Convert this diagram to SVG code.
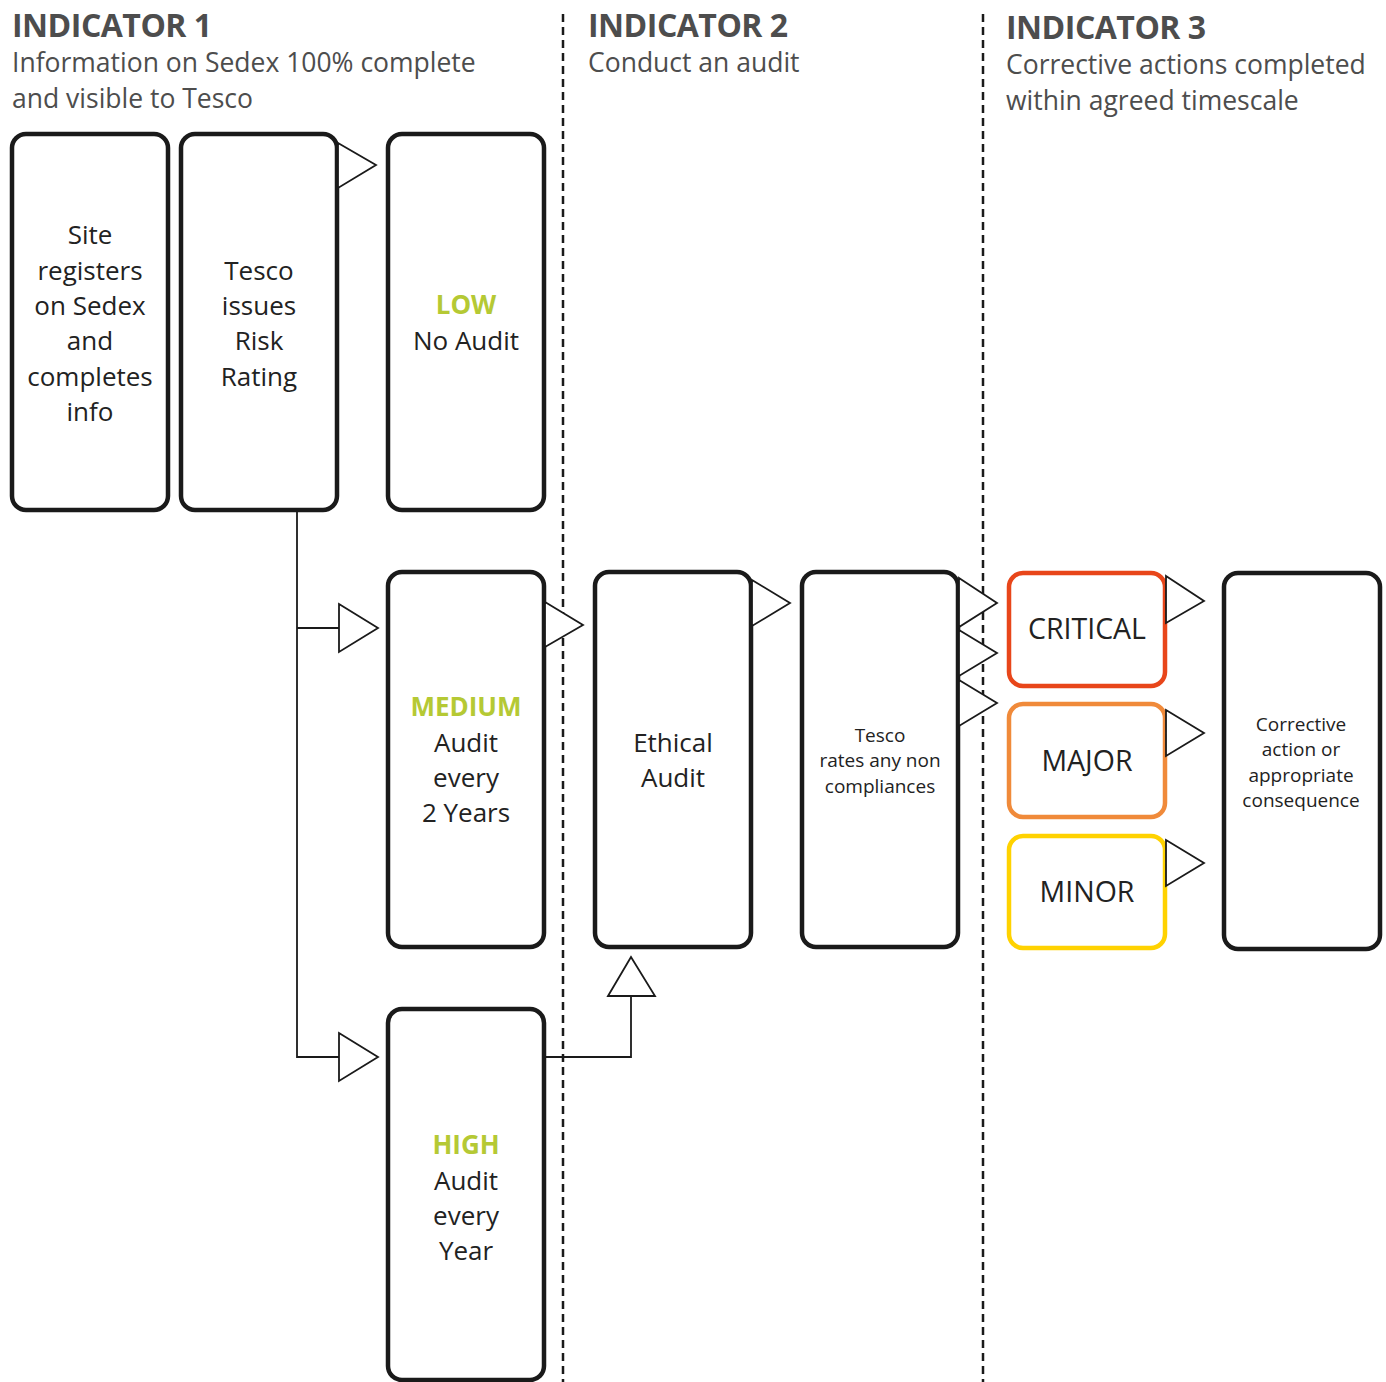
<svg xmlns="http://www.w3.org/2000/svg" width="1386" height="1382" viewBox="0 0 1386 1382">
<style>
.box{fill:#fff;stroke:#1a1a1a;stroke-width:4.5}
.tri{fill:#fff;stroke:#1a1a1a;stroke-width:1.8;stroke-linejoin:miter}
.ln{fill:none;stroke:#1a1a1a;stroke-width:1.8}
.dash{stroke:#1a1a1a;stroke-width:2.5;stroke-dasharray:8,5}
text{font-family:"Open Sans","Noto Sans",sans-serif;fill:#222}
.h{font-weight:bold;font-size:32px;fill:#4d4d4d;letter-spacing:-0.5px}
.s{font-size:26.5px;fill:#4d4d4d}
.t{font-size:26px;text-anchor:middle}
.sm{font-size:19px;text-anchor:middle}
.big{font-size:28.5px}
.g{font-weight:bold;fill:#b5c934}
</style>
<rect width="1386" height="1382" fill="#fff"/>
<g id="dividers">
<line class="dash" x1="563" y1="14" x2="563" y2="1382"/>
<line class="dash" x1="983" y1="14" x2="983" y2="1382"/>
</g>
<g id="headers">
<text class="h" x="12" y="37">INDICATOR 1</text>
<text class="s" x="12" y="72">Information on Sedex 100% complete</text>
<text class="s" x="12" y="108">and visible to Tesco</text>
<text class="h" x="588" y="37">INDICATOR 2</text>
<text class="s" x="588" y="72">Conduct an audit</text>
<text class="h" x="1006" y="39">INDICATOR 3</text>
<text class="s" x="1006" y="74">Corrective actions completed</text>
<text class="s" x="1006" y="110">within agreed timescale</text>
</g>
<g id="connectors">
<polyline class="ln" points="297,510 297,1057 339,1057"/>
<line class="ln" x1="297" y1="628" x2="339" y2="628"/>
<polyline class="ln" points="545,1057 631,1057 631,996"/>
</g>
<g id="site">
<rect class="box" x="12" y="134" width="156" height="376" rx="14"/>
<text class="t" x="90" y="244">Site</text>
<text class="t" x="90" y="280">registers</text>
<text class="t" x="90" y="315">on Sedex</text>
<text class="t" x="90" y="350">and</text>
<text class="t" x="90" y="386">completes</text>
<text class="t" x="90" y="421">info</text>
</g>
<g id="risk">
<rect class="box" x="181" y="134" width="156" height="376" rx="14"/>
<text class="t" x="259" y="280">Tesco</text>
<text class="t" x="259" y="315">issues</text>
<text class="t" x="259" y="350">Risk</text>
<text class="t" x="259" y="386">Rating</text>
</g>
<g id="low">
<rect class="box" x="388" y="134" width="156" height="376" rx="14"/>
<text class="t g" x="466" y="314">LOW</text>
<text class="t" x="466" y="350">No Audit</text>
</g>
<g id="medium">
<rect class="box" x="388" y="572" width="156" height="375" rx="14"/>
<text class="t g" x="466" y="716">MEDIUM</text>
<text class="t" x="466" y="752">Audit</text>
<text class="t" x="466" y="787">every</text>
<text class="t" x="466" y="822">2 Years</text>
</g>
<g id="high">
<rect class="box" x="388" y="1009" width="156" height="371" rx="14"/>
<text class="t g" x="466" y="1154">HIGH</text>
<text class="t" x="466" y="1190">Audit</text>
<text class="t" x="466" y="1225">every</text>
<text class="t" x="466" y="1260">Year</text>
</g>
<g id="ethical">
<rect class="box" x="595" y="572" width="156" height="375" rx="14"/>
<text class="t" x="673" y="752">Ethical</text>
<text class="t" x="673" y="787">Audit</text>
</g>
<g id="rates">
<rect class="box" x="802" y="572" width="156" height="375" rx="14"/>
<text class="sm" x="880" y="742">Tesco</text>
<text class="sm" x="880" y="767">rates any non</text>
<text class="sm" x="880" y="793">compliances</text>
</g>
<g id="critical">
<rect class="box" x="1009" y="573" width="156" height="113" rx="14" style="stroke:#e8461a"/>
<text class="t big" x="1087" y="639">CRITICAL</text>
</g>
<g id="major">
<rect class="box" x="1009" y="704" width="156" height="113" rx="14" style="stroke:#f08a3a"/>
<text class="t big" x="1087" y="771">MAJOR</text>
</g>
<g id="minor">
<rect class="box" x="1009" y="836" width="156" height="112" rx="14" style="stroke:#ffd200"/>
<text class="t big" x="1087" y="902">MINOR</text>
</g>
<g id="corrective">
<rect class="box" x="1224" y="573" width="156" height="376" rx="14"/>
<text class="sm" x="1301" y="731">Corrective</text>
<text class="sm" x="1301" y="756">action or</text>
<text class="sm" x="1301" y="782">appropriate</text>
<text class="sm" x="1301" y="807">consequence</text>
</g>
<g id="arrowheads">
<polygon class="tri" points="338,143 376,165 338,188"/>
<polygon class="tri" points="339,604 378,628 339,652"/>
<polygon class="tri" points="339,1033 378,1057 339,1081"/>
<polygon class="tri" points="545,602 583,625 545,647"/>
<polygon class="tri" points="608,996 631,957 655,996"/>
<polygon class="tri" points="752,580 790,603 752,626"/>
<polygon class="tri" points="959,578 997,603 959,627"/>
<polygon class="tri" points="959,630 997,653 959,676"/>
<polygon class="tri" points="959,680 997,703 959,726"/>
<polygon class="tri" points="1166,576 1204,601 1166,623"/>
<polygon class="tri" points="1166,710 1204,733 1166,756"/>
<polygon class="tri" points="1166,840 1204,863 1166,886"/>
</g>
</svg>
